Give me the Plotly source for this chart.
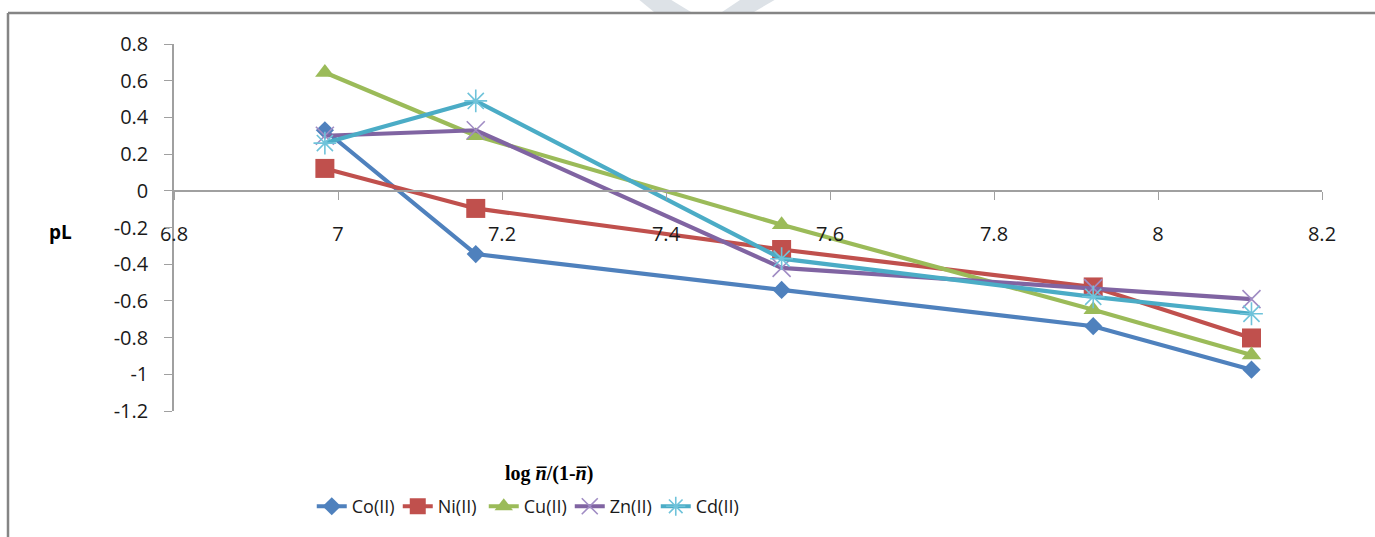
import plotly.graph_objects as go

# log n/(1-n) values shared by every metal ion
log_ratio = [6.984, 7.168, 7.541, 7.921, 8.114]

# pL values per metal ion
co_pl = [0.33, -0.345, -0.54, -0.738, -0.975]
ni_pl = [0.122, -0.096, -0.32, -0.524, -0.802]
cu_pl = [0.645, 0.30, -0.185, -0.648, -0.895]
zn_pl = [0.30, 0.33, -0.42, -0.53, -0.59]
cd_pl = [0.26, 0.49, -0.37, -0.578, -0.67]

series_names = ["Co(II)", "Ni(II)", "Cu(II)", "Zn(II)", "Cd(II)"]

x_tick_vals = [6.8, 7.0, 7.2, 7.4, 7.6, 7.8, 8.0, 8.2]
x_tick_text = ["6.8", "7", "7.2", "7.4", "7.6", "7.8", "8", "8.2"]
y_tick_vals = [0.8, 0.6, 0.4, 0.2, 0.0, -0.2, -0.4, -0.6, -0.8, -1.0, -1.2]
y_tick_text = ["0.8", "0.6", "0.4", "0.2", "0", "-0.2", "-0.4", "-0.6", "-0.8", "-1", "-1.2"]

W, H = 1375, 537
ML, MR, MT, MB = 174, 53, 44, 126
PW, PH = W - ML - MR, H - MT - MB


def px_to_paper(px, py):
    return (px - ML) / PW, (H - MB - py) / PH


styles = [
    dict(color="#4F81BD", symbol="diamond", size=14, mcolor="#4F81BD", mline=0),
    dict(color="#C0504D", symbol="square", size=19, mcolor="#C0504D", mline=0),
    dict(color="#9BBB59", symbol="triangle-up", size=17, mcolor="#9BBB59", mline=0),
    dict(color="#8064A2", symbol="x-thin-open", size=18, mcolor="#A08CC4", mline=1.6),
    dict(color="#4BACC6", symbol="asterisk-open", size=19, mcolor="#6FC3DA", mline=1.6),
]

fig = go.Figure()
for name, ys, st in zip(series_names, [co_pl, ni_pl, cu_pl, zn_pl, cd_pl], styles):
    fig.add_trace(go.Scatter(
        x=log_ratio, y=ys, name=name, mode="lines+markers",
        line=dict(color=st["color"], width=4.2),
        marker=dict(symbol=st["symbol"], size=st["size"], color=st["mcolor"],
                    line=dict(color=st["mcolor"], width=st["mline"])),
    ))

tick_font = dict(family="Open Sans", size=20, color="#1a1a1a")

fig.update_layout(
    width=W, height=H,
    margin=dict(l=ML, r=MR, t=MT, b=MB),
    paper_bgcolor="white", plot_bgcolor="white",
    showlegend=True,
    legend=dict(orientation="h", x=0.120, y=-0.21, xanchor="left", yanchor="top",
                font=dict(family="Open Sans", size=18, color="#1a1a1a"),
                itemwidth=30, tracegroupgap=0,
                entrywidth=41, entrywidthmode="pixels"),
    xaxis=dict(range=[6.8, 8.2], tickvals=x_tick_vals, ticktext=x_tick_text,
               showgrid=False, zeroline=False, showline=True, linecolor="#A0A0A0",
               linewidth=1.5, ticks="outside", ticklen=8, tickcolor="#A0A0A0",
               anchor="free", position=0.6, tickfont=tick_font,
               ticklabelstandoff=17),
    yaxis=dict(range=[-1.2, 0.8], tickvals=y_tick_vals, ticktext=y_tick_text,
               showgrid=False, zeroline=False, showline=True, linecolor="#A0A0A0",
               linewidth=1.5, ticks="outside", ticklen=8, tickcolor="#A0A0A0",
               tickfont=tick_font, ticklabelstandoff=12),
)

# axis titles
tx, ty = px_to_paper(549, 473)
fig.add_annotation(x=tx, y=ty, xref="paper", yref="paper", showarrow=False,
                   xanchor="center", yanchor="middle",
                   text="<b>log <i>n\u0305</i>/(1-<i>n\u0305</i>)</b>",
                   font=dict(family="Liberation Serif", size=20, color="#000000"))
lx, ly = px_to_paper(60, 232)
fig.add_annotation(x=lx, y=ly, xref="paper", yref="paper", showarrow=False,
                   xanchor="center", yanchor="middle",
                   text="<b>pL</b>",
                   font=dict(family="Open Sans", size=19, color="#000000"))

# outer chart frame (left and top edges)
x0, y0 = px_to_paper(8, 13)
x1, _ = px_to_paper(1376, 13)
_, yb = px_to_paper(8, 540)
fig.add_shape(type="line", xref="paper", yref="paper", x0=x0, y0=y0, x1=x1, y1=y0,
              line=dict(color="#858585", width=2.5))
fig.add_shape(type="line", xref="paper", yref="paper", x0=x0, y0=y0, x1=x0, y1=yb,
              line=dict(color="#858585", width=2.5))

# faint chevron mark above the frame
def band(pts):
    p = [px_to_paper(a, b) for a, b in pts]
    return "M " + " L ".join(f"{a},{b}" for a, b in p) + " Z"

for pts in ([(637, -2), (668, -2), (691, 12), (654, 12)],
            [(743, -2), (778, -2), (754, 12), (722, 12)]):
    fig.add_shape(type="path", xref="paper", yref="paper", path=band(pts),
                  fillcolor="#DDE2E7", line=dict(width=0), layer="below")

fig.write_html("out.html")
